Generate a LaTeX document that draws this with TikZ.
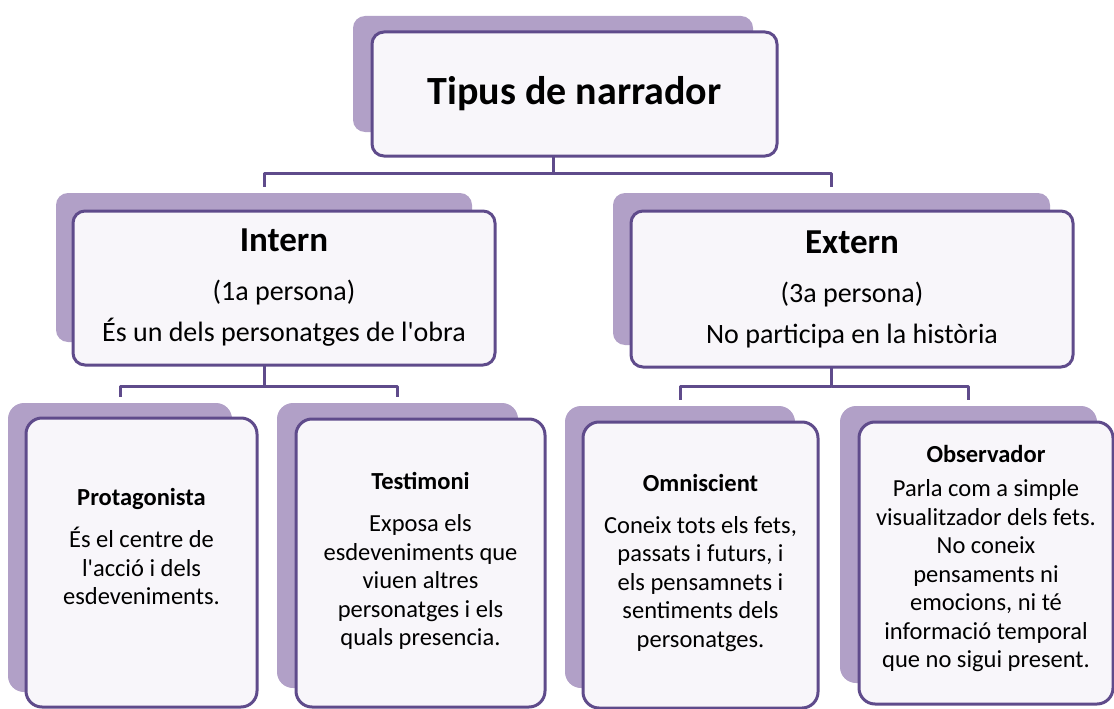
\documentclass[tikz,border=0pt]{standalone}
\usepackage{fontspec}
\setmainfont{Carlito}[Ligatures=TeXOff]
\definecolor{cardline}{HTML}{5F4B8B}
\definecolor{cardshade}{HTML}{B1A0C7}
\definecolor{cardfill}{HTML}{F8F6FA}
\begin{document}
\begin{tikzpicture}[x=1pt, y=-1pt, line join=round, line cap=round,
	backcard/.style={fill=cardshade, rounded corners=#1, inner sep=0pt, outer sep=0pt},
	card/.style={draw=cardline, line width=3pt, fill=cardfill, rounded corners=#1, inner sep=0pt, outer sep=0pt, align=center},
	cardtext/.style={align=center, inner sep=0pt, font=\fontsize{24.5}{28.5}\selectfont},
	midtext/.style={font=\fontsize{28}{41}\selectfont},
	link/.style={draw=cardline, line width=3pt, line cap=butt}]
		\useasboundingbox (0,0) rectangle (1114,709);
		\node[backcard=12pt, minimum width=400pt, minimum height=116pt] (topS) at (553,74) {};
		\node[card=12pt, minimum width=405pt, minimum height=124pt, font=\fontsize{40}{48}\selectfont\bfseries] (top) at (574.5,94) {Tipus de narrador};
		\node[backcard=12pt, minimum width=416pt, minimum height=149pt] (internS) at (264,267.5) {};
		\node[card=12pt, minimum width=422pt, minimum height=154pt, midtext] (intern) at (284,288) {{\bfseries\fontsize{35}{41}\selectfont Intern}\\[8pt](1a persona)\\És un dels personatges de l'obra};
		\node[backcard=12pt, minimum width=437pt, minimum height=152pt] (externS) at (831.5,269) {};
		\node[card=12pt, minimum width=442pt, minimum height=156pt, midtext] (extern) at (852,289) {{\bfseries\fontsize{35}{41}\selectfont Extern}\\[8pt](3a persona)\\No participa en la història};
		%\tikzset{cardtext/.style={font=\small}}
		\node[backcard=16pt, minimum width=224pt, minimum height=289pt] (protS) at (120,547.5) {};
		\node[card=16pt, minimum width=231pt, minimum height=289pt] (prot) at (141.5,562.5) {};
		\node[backcard=16pt, minimum width=241pt, minimum height=285pt] (testS) at (397.5,545.5) {};
		\node[card=16pt, minimum width=249pt, minimum height=288pt] (test) at (420.5,563) {};
		\node[backcard=16pt, minimum width=230pt, minimum height=282pt] (omniS) at (680,547) {};
		\node[card=16pt, minimum width=235pt, minimum height=286pt] (omni) at (700.5,565) {};
		\node[backcard=16pt, minimum width=257pt, minimum height=277pt] (obsS) at (968.5,544.5) {};
		\node[card=16pt, minimum width=254pt, minimum height=282pt] (obs) at (986,563) {};
		\node[cardtext] (protT) at ([yshift=16pt]prot.center) {{\bfseries Protagonista}\\[13.5pt]És el centre de\\l'acció i dels\\esdeveniments.};
		\node[cardtext] (testT) at ([yshift=2pt]test.center) {{\bfseries Testimoni}\\[13.5pt]Exposa els\\esdeveniments que\\viuen altres\\personatges i els\\quals presencia.};
		\node[cardtext] (omniT) at ([yshift=2pt]omni.center) {{\bfseries Omniscient}\\[13.5pt]Coneix tots els fets,\\passats i futurs, i\\els pensamnets i\\sentiments dels\\personatges.};
		\node[cardtext] (obsT) at ([yshift=4pt]obs.center) {{\bfseries Observador}\\[5.5pt]Parla com a simple\\visualitzador dels fets.\\No coneix\\pensaments ni\\emocions, ni té\\informació temporal\\que no sigui present.};
		\coordinate (bar1) at (0,173);
		\coordinate (bar2) at (0,386);
		\draw[link, shorten >=6pt] (topS.south |- top.south) -- (topS.south |- bar1) -| (internS.north);
		\draw[link, shorten >=6pt] (topS.south |- bar1) -| (externS.north);
		\draw[link, shorten >=6pt] (internS.south |- intern.south) -- (internS.south |- bar2) -| (protS.north);
		\draw[link, shorten >=6pt] (internS.south |- bar2) -| (testS.north);
		\draw[link, shorten >=6pt] (externS.south |- extern.south) -- (externS.south |- bar2) -| (omniS.north);
		\draw[link, shorten >=6pt] (externS.south |- bar2) -| (obsS.north);
	\end{tikzpicture}
\end{document}
